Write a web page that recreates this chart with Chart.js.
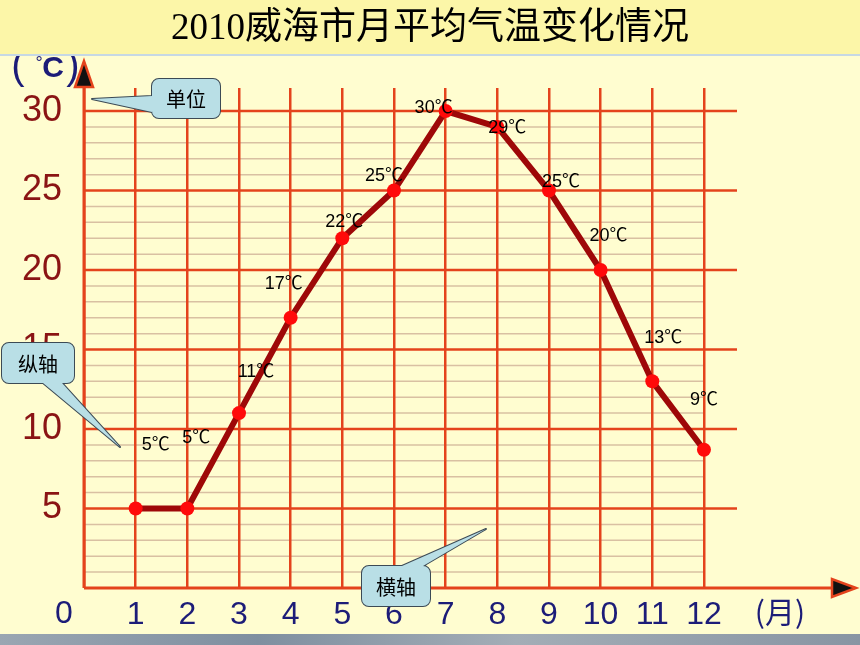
<!DOCTYPE html>
<html lang="zh">
<head>
  <meta charset="UTF-8">
  <title>2010威海市月平均气温变化情况</title>
  <style>
  body {
    margin: 0;
    background: #fffdd0;
  }
  canvas {
    display: block;
  }
  </style>
  <script src="https://cdn.jsdelivr.net/npm/chart.js"></script>
</head>
<body>
  <canvas id="tempChart" width="860" height="645"></canvas>

  <script>
    // data
    var months = [1, 2, 3, 4, 5, 6, 7, 8, 9, 10, 11, 12];
    var temps = [5, 5, 11, 17, 22, 25, 30, 29, 25, 20, 13, 8.7];
    var tempLabels = ['5℃', '5℃', '11℃', '17℃', '22℃', '25℃', '30℃', '29℃', '25℃', '20℃', '13℃', '9℃'];
    var yTicks = [0, 5, 10, 15, 20, 25, 30];
    var xTicks = [0, 1, 2, 3, 4, 5, 6, 7, 8, 9, 10, 11, 12];

    var titleText = '2010威海市月平均气温变化情况';

    // where each value label sits relative to its point (px)
    var labelOffsets = [[20, -63], [9, -70], [17, -41], [-7, -34], [2, -16], [-10, -15],
                        [-12, -3], [10, 1], [12, -9], [8, -34], [11, -43], [0, -50]];

    var RED = '#e4431c';
    var MINOR = '#d9c0a2';
    var NAVY = '#1c1c78';

    // background + thin 1-degree lines (under the vertical grid)
    var backPlugin = {
      id: 'backPlugin',
      beforeDraw: function(chart) {
        var ctx = chart.ctx;
        var xs = chart.scales.x, ys = chart.scales.y;
        ctx.save();
        ctx.fillStyle = '#fffdd0';
        ctx.fillRect(0, 0, chart.width, chart.height);
        ctx.strokeStyle = MINOR;
        ctx.lineWidth = 1.5;
        var right = xs.getPixelForValue(months[months.length - 1]);
        for (var v = 1; v < 30; v++) {
          if (v % 5 === 0) continue;
          var y = ys.getPixelForValue(v);
          ctx.beginPath();
          ctx.moveTo(xs.left, y);
          ctx.lineTo(right, y);
          ctx.stroke();
        }
        ctx.restore();
      }
    };

    // thick 5-degree lines, the two axes with arrows
    var axesPlugin = {
      id: 'axesPlugin',
      beforeDatasetsDraw: function(chart) {
        var ctx = chart.ctx;
        var xs = chart.scales.x, ys = chart.scales.y;
        var area = chart.chartArea;
        ctx.save();
        ctx.strokeStyle = RED;
        ctx.lineWidth = 2.5;
        for (var v = 5; v <= 30; v += 5) {
          var y = ys.getPixelForValue(v);
          ctx.beginPath();
          ctx.moveTo(area.left, y);
          ctx.lineTo(area.right, y);
          ctx.stroke();
        }
        var x0 = xs.getPixelForValue(0);
        var y0 = ys.getPixelForValue(0);
        ctx.lineWidth = 3;
        ctx.beginPath();
        ctx.moveTo(x0, y0);
        ctx.lineTo(x0, 86);
        ctx.moveTo(x0, y0);
        ctx.lineTo(833, y0);
        ctx.stroke();
        // arrow heads
        ctx.fillStyle = '#111';
        ctx.lineWidth = 2.5;
        ctx.lineJoin = 'miter';
        ctx.beginPath();
        ctx.moveTo(x0, 61);
        ctx.lineTo(x0 - 9, 87);
        ctx.lineTo(x0 + 9, 87);
        ctx.closePath();
        ctx.fill();
        ctx.stroke();
        ctx.beginPath();
        ctx.moveTo(856, y0);
        ctx.lineTo(832, y0 - 9);
        ctx.lineTo(832, y0 + 9);
        ctx.closePath();
        ctx.fill();
        ctx.stroke();
        ctx.restore();
      }
    };

    function callout(ctx, box, tail, text) {
      ctx.save();
      ctx.strokeStyle = '#3c4a55';
      ctx.fillStyle = '#b9dfe6';
      ctx.lineWidth = 2;
      ctx.lineJoin = 'round';
      ctx.beginPath();
      ctx.roundRect(box[0], box[1], box[2], box[3], 7);
      ctx.moveTo(tail[0][0], tail[0][1]);
      ctx.lineTo(tail[1][0], tail[1][1]);
      ctx.lineTo(tail[2][0], tail[2][1]);
      ctx.closePath();
      ctx.stroke();
      ctx.beginPath();
      ctx.roundRect(box[0], box[1], box[2], box[3], 7);
      ctx.fill();
      ctx.beginPath();
      ctx.moveTo(tail[0][0], tail[0][1]);
      ctx.lineTo(tail[1][0], tail[1][1]);
      ctx.lineTo(tail[2][0], tail[2][1]);
      ctx.closePath();
      ctx.fill();
      ctx.fillStyle = '#000';
      ctx.font = '20px "Noto Sans CJK SC"';
      ctx.textAlign = 'center';
      ctx.textBaseline = 'middle';
      ctx.fillText(text, box[0] + box[2] / 2, box[1] + box[3] / 2 + 1);
      ctx.restore();
    }

    // value labels, axis extras, callouts, title bar
    var textPlugin = {
      id: 'textPlugin',
      afterDatasetsDraw: function(chart) {
        var ctx = chart.ctx;
        var meta = chart.getDatasetMeta(0);
        ctx.save();
        ctx.fillStyle = '#000';
        ctx.font = '18px "Liberation Sans", "Noto Sans CJK SC"';
        ctx.textAlign = 'center';
        ctx.textBaseline = 'middle';
        meta.data.forEach(function(pt, i) {
          ctx.fillText(tempLabels[i], pt.x + labelOffsets[i][0], pt.y + labelOffsets[i][1]);
        });
        ctx.restore();
      },
      afterDraw: function(chart) {
        var ctx = chart.ctx;
        var xs = chart.scales.x;
        ctx.save();
        // origin "0" and unit of the x axis
        ctx.fillStyle = NAVY;
        ctx.textAlign = 'center';
        ctx.textBaseline = 'middle';
        ctx.font = '32px "Liberation Sans"';
        ctx.fillText('0', xs.getPixelForValue(0) - 20, 614);
        ctx.font = '30px "Noto Sans CJK SC"';
        ctx.fillText('(月)', 780, 612);
        // unit of the y axis
        ctx.font = '40px "Liberation Sans"';
        ctx.fillText('(', 18, 68);
        ctx.fillText(')', 73, 68);
        ctx.font = '18px "Liberation Sans"';
        ctx.fillText('°', 39, 64);
        ctx.font = 'bold 30px "Liberation Sans"';
        ctx.fillText('C', 53, 69);
        // bottom edge strip
        var g = ctx.createLinearGradient(0, 0, 860, 0);
        g.addColorStop(0, '#9aa6b2');
        g.addColorStop(0.3, '#7f8fa0');
        g.addColorStop(0.6, '#a3adb6');
        g.addColorStop(1, '#8895a3');
        ctx.fillStyle = g;
        ctx.fillRect(0, 634, 860, 11);
        // title bar
        ctx.fillStyle = '#fcf6a8';
        ctx.fillRect(0, 0, 860, 55);
        ctx.strokeStyle = '#c6d8e4';
        ctx.lineWidth = 2;
        ctx.beginPath();
        ctx.moveTo(0, 55);
        ctx.lineTo(860, 55);
        ctx.stroke();
        ctx.fillStyle = '#000';
        ctx.font = '37px "Liberation Serif", "Noto Sans CJK SC"';
        ctx.fillText(titleText, 430, 29);
        ctx.restore();
        callout(ctx, [152, 79, 68, 39], [[152, 96], [92, 99], [152, 112]], '单位');
        callout(ctx, [2, 343, 72, 40], [[43, 383], [120, 447], [62, 383]], '纵轴');
        callout(ctx, [362, 566, 68, 40], [[402, 566], [486, 529], [423, 566]], '横轴');
      }
    };

    var tempChart = new Chart('tempChart', {
      type: 'line',
      data: {
        datasets: [{
          label: '月平均气温',
          data: months.map(function(m, i) { return { x: m, y: temps[i] }; }),
          borderColor: '#9e0808',
          borderWidth: 6,
          pointRadius: 7,
          pointBackgroundColor: '#ff0a0a',
          pointBorderWidth: 0,
          tension: 0
        }]
      },
      options: {
        responsive: false,
        animation: false,
        layout: {
          padding: { top: 88, right: 123, bottom: 0, left: 0 }
        },
        plugins: {
          legend: { display: false },
          title: { display: false },
          tooltip: { enabled: false }
        },
        scales: {
          x: {
            type: 'linear',
            min: 0,
            max: 12.64,
            afterBuildTicks: function(scale) {
              scale.ticks = xTicks.map(function(v) { return { value: v }; });
            },
            afterFit: function(scale) { scale.height = 57; },
            border: { display: false },
            grid: { color: RED, lineWidth: 2.5, drawTicks: false },
            ticks: {
              padding: 8,
              color: NAVY,
              font: { family: 'Liberation Sans', size: 32 },
              callback: function(v) { return v === 0 ? '' : v; }
            }
          },
          y: {
            type: 'linear',
            min: 0,
            max: 31.45,
            afterBuildTicks: function(scale) {
              scale.ticks = yTicks.map(function(v) { return { value: v }; });
            },
            afterFit: function(scale) { scale.width = 84; },
            border: { display: false },
            grid: { display: false, drawTicks: false },
            ticks: {
              padding: 22,
              color: '#8a1414',
              font: { family: 'Liberation Sans', size: 36 },
              callback: function(v) { return v === 0 ? '' : v; }
            }
          }
        }
      },
      plugins: [backPlugin, axesPlugin, textPlugin]
    });
  </script>
</body>
</html>
